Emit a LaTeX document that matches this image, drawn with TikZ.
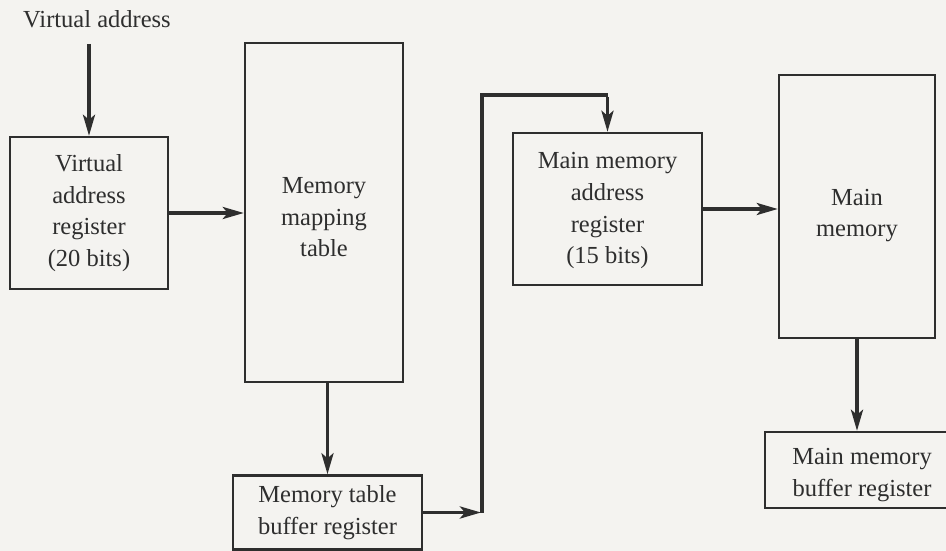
\documentclass[tikz,border=0pt]{standalone}
\usepackage{fontspec}
\setmainfont{Liberation Serif}
\usetikzlibrary{arrows.meta}
\definecolor{ink}{HTML}{2E2E2E}
\definecolor{paper}{HTML}{F4F3F0}
% invisible strut that lowers a block of centred text
\newcommand{\lowerby}[1]{\rule{0pt}{\dimexpr 16pt+2\dimexpr #1\relax\relax}}
\begin{document}
\begin{tikzpicture}[x=1pt,y=-1pt,
  font=\fontsize{24.5}{31.6}\selectfont,
  box/.style={draw=ink,line width=2.4pt,text=ink,align=center,inner sep=0pt},
  arr/.style={draw=ink,line width=3.6pt,
    -{Stealth[length=21pt,width=12pt,inset=5pt]}},
  lbl/.style={text=ink,inner sep=0pt}]
  % page
  \fill[paper] (0,0) rectangle (946,551);
  \useasboundingbox (0,0) rectangle (946,551);

  % blocks
  \node[lbl] (va) at (97,19) {Virtual address};
  \node[box,minimum width=158pt,minimum height=152pt] (var) at (89,213)
    {Virtual\\address\\register\\(20 bits)};
  \node[box,minimum width=158pt,minimum height=339pt] (mmt) at (324,212.5)
    {\lowerby{5pt}Memory\\mapping\\table};
  \node[box,minimum width=189pt,minimum height=74pt] (mtbr) at (327.5,512.5)
    {Memory table\\buffer register};
  \node[box,minimum width=189pt,minimum height=152pt] (mmar) at (607.5,209)
    {\lowerby{2pt}Main memory\\address\\register\\(15 bits)};
  \node[box,minimum width=156pt,minimum height=263pt] (mm) at (857,206.5)
    {\lowerby{9pt}Main\\memory};
  \node[box,minimum width=194pt,minimum height=76pt] (mmbr) at (862,470)
    {\lowerby{5pt}Main memory\\buffer register};

  % data paths
  \coordinate (vain) at (var.north |- 0,44);
  \draw[arr] (vain) -- (var.north);
  \draw[arr] (var.east) -- (var.east -| mmt.west);
  \draw[arr] (mtbr.north |- mmt.south) -- (mtbr.north);
  \coordinate (fb) at (482,512.5);
  \coordinate (top) at (mmar.north |- 0,95);
  \draw[arr] (mtbr.east) -- ([xshift=-1pt]fb);
  \draw[draw=ink,line width=3.6pt,line join=miter] (fb) |- (top);
  \draw[arr] ([yshift=-1.8pt]top) -- (mmar.north);
  \draw[arr] (mmar.east) -- (mmar.east -| mm.west);
  \draw[arr] (mm.south) -- (mm.south |- mmbr.north);
\end{tikzpicture}
\end{document}
